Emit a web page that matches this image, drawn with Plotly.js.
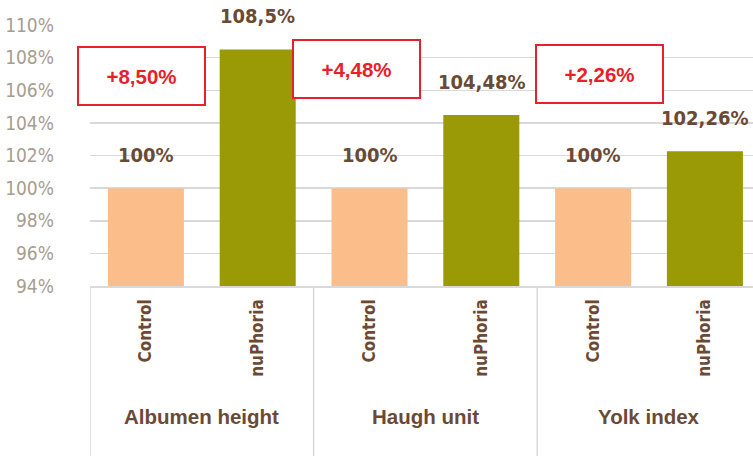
<!DOCTYPE html>
<html>
<head>
<meta charset="utf-8">
<script src="https://cdn.plot.ly/plotly-3.0.1.min.js"></script>
<style>html,body{margin:0;padding:0;background:#fff;}#chart{width:753px;height:456px;}</style>
</head>
<body>
<div id="chart"></div>
<script>
const groups = ["Albumen height", "Haugh unit", "Yolk index"];
const subs = ["Control", "nuPhoria"];
const controlValues = [100, 100, 100];
const nuphoriaValues = [108.5, 104.48, 102.26];
const diffLabels = ["+8,50%", "+4,48%", "+2,26%"];
const yTicks = [94, 96, 98, 100, 102, 104, 106, 108, 110];

const NARROW = '"Liberation Sans Narrow", "DejaVu Sans Condensed", sans-serif';
const WIDE = '"Liberation Sans", Arial, sans-serif';
const BROWN = '#6b4a35';
const RED = '#e8202a';

const ctrlX = groups.map((g, i) => 2 * i);
const nuX = groups.map((g, i) => 2 * i + 1);
const fmt = v => String(v).replace('.', ',') + '%';

const traces = [
  { type: 'bar', x: ctrlX, y: controlValues, width: 0.68, marker: { color: '#fbbe8b' }, hoverinfo: 'skip', name: subs[0] },
  { type: 'bar', x: nuX, y: nuphoriaValues, width: 0.68, marker: { color: '#999a06' }, hoverinfo: 'skip', name: subs[1] }
];

const annotations = [];
groups.forEach((g, i) => {
  annotations.push({ x: ctrlX[i], y: controlValues[i], xref: 'x', yref: 'y', text: '<b>' + fmt(controlValues[i]) + '</b>', showarrow: false, yanchor: 'bottom', yshift: 19, font: { family: NARROW, size: 20, color: BROWN } });
  annotations.push({ x: nuX[i], y: nuphoriaValues[i], xref: 'x', yref: 'y', text: '<b>' + fmt(nuphoriaValues[i]) + '</b>', showarrow: false, yanchor: 'bottom', yshift: 19, font: { family: NARROW, size: 20, color: BROWN } });
  annotations.push({ x: 2 * i + 0.5, y: -0.5, xref: 'x', yref: 'paper', text: '<b>' + g + '</b>', showarrow: false, yanchor: 'middle', font: { family: WIDE, size: 20.5, color: BROWN } });
});

const boxPos = [[-0.04, 106.87], [1.88, 107.3], [4.06, 107.02]];
diffLabels.forEach((t, i) => {
  annotations.push({ x: boxPos[i][0], y: boxPos[i][1], xref: 'x', yref: 'y', text: '<b>' + t + '</b>', showarrow: false, width: 125, height: 56, borderpad: 0, bordercolor: RED, borderwidth: 2, bgcolor: '#ffffff', font: { family: WIDE, size: 20.5, color: RED } });
});

const shapes = [-0.5, 1.5, 3.5].map(x => ({ type: 'line', xref: 'x', yref: 'paper', x0: x, x1: x, y0: 0, y1: -0.66, line: { color: '#d9d9d9', width: 1.5 } }));

const layout = {
  width: 753, height: 456,
  margin: { l: 90, r: 0, t: 25, b: 170 },
  paper_bgcolor: '#ffffff', plot_bgcolor: '#ffffff',
  showlegend: false,
  xaxis: {
    type: 'linear', range: [-0.5, 5.43],
    tickvals: groups.flatMap((g, i) => [2 * i, 2 * i + 1]),
    ticktext: groups.flatMap(() => subs.map(s => '<b>' + s + '</b>')),
    tickangle: -90, ticks: '', ticklabelstandoff: 5,
    tickfont: { family: NARROW, size: 17, color: BROWN },
    showgrid: false, zeroline: false,
    showline: true, linecolor: '#d9d9d9', linewidth: 1.5
  },
  yaxis: {
    range: [94, 110], tickvals: yTicks, ticktext: yTicks.map(v => v + '%'),
    showgrid: true, gridcolor: '#d9d9d9', gridwidth: 1.5,
    zeroline: false, showline: false, ticks: '', ticklabelstandoff: 35,
    tickfont: { family: NARROW, size: 19, color: '#a89d90' }
  },
  annotations: annotations,
  shapes: shapes
};

Plotly.newPlot('chart', traces, layout, { staticPlot: true, displayModeBar: false });
</script>
</body>
</html>
